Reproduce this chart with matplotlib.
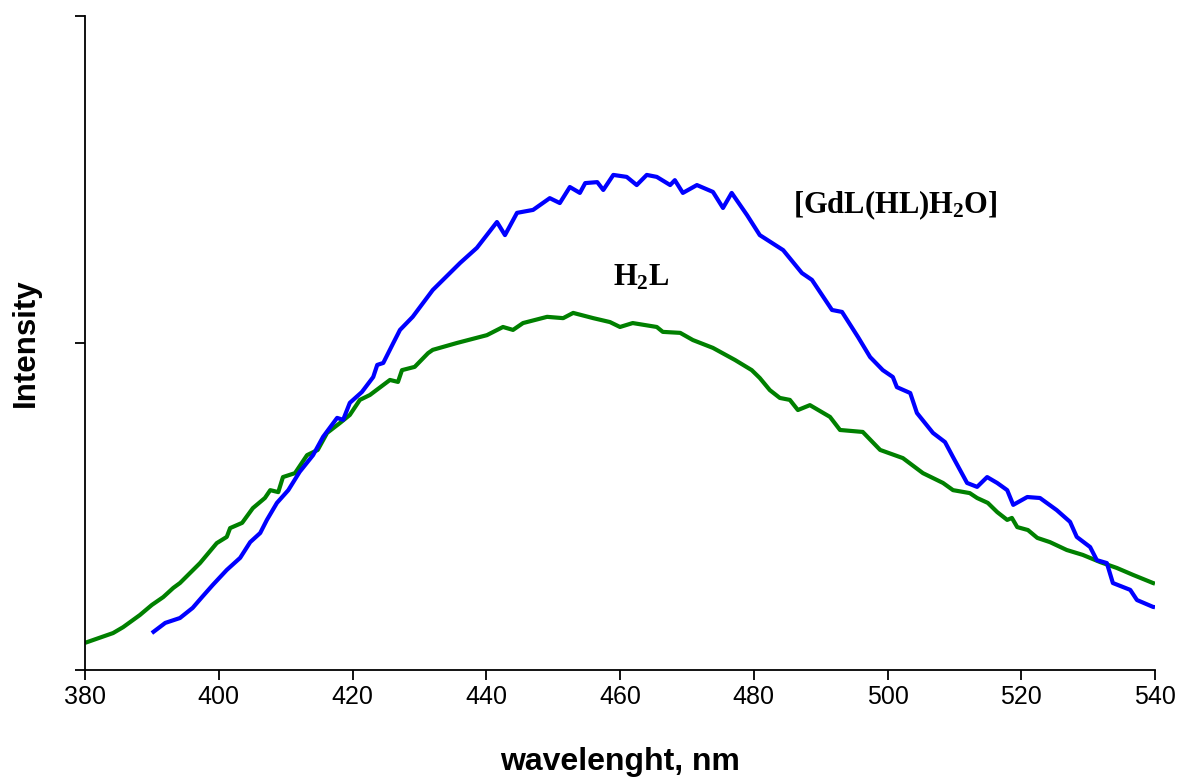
import matplotlib
matplotlib.use("Agg")
import matplotlib.pyplot as plt

plt.rcParams['font.family'] = ['Liberation Sans', 'DejaVu Sans']
plt.rcParams['mathtext.fontset'] = 'custom'
plt.rcParams['mathtext.rm'] = 'Liberation Serif'
plt.rcParams['mathtext.bf'] = 'Liberation Serif:bold'

# [GdL(HL)H2O] spectrum
gd_wl = [390.0, 392.0, 394.2, 396.1, 397.5, 399.1, 401.2, 403.2, 404.7, 406.2,
         407.2, 408.7, 410.4, 412.1, 414.1, 415.6, 417.7, 418.6, 419.6, 421.4,
         423.1, 423.7, 424.6, 426.1, 427.1, 429.0, 432.0, 436.1, 438.6, 441.6,
         442.8, 444.6, 447.0, 449.5, 451.0, 452.5, 454.0, 454.8, 456.6, 457.5,
         459.0, 461.0, 462.5, 464.0, 465.5, 467.5, 468.2, 469.4, 471.5, 473.9,
         475.4, 476.7, 479.0, 480.9, 484.4, 487.2, 488.7, 491.7, 493.2, 495.6,
         497.4, 499.3, 500.8, 501.4, 503.4, 504.4, 506.8, 508.6, 509.8, 511.9,
         513.4, 514.9, 516.4, 517.9, 518.8, 520.9, 522.8, 525.3, 527.3, 528.3,
         530.3, 531.3, 532.8, 533.7, 536.3, 537.3, 539.7, 540.0]
gd_int = [0.113, 0.144, 0.159, 0.190, 0.223, 0.260, 0.306, 0.343, 0.391, 0.419,
          0.459, 0.511, 0.550, 0.606, 0.657, 0.713, 0.771, 0.765, 0.817, 0.850,
          0.896, 0.933, 0.939, 1.000, 1.040, 1.080, 1.162, 1.245, 1.291, 1.370,
          1.330, 1.398, 1.407, 1.443, 1.428, 1.477, 1.459, 1.489, 1.492, 1.468,
          1.514, 1.508, 1.483, 1.514, 1.508, 1.483, 1.498, 1.459, 1.483, 1.462,
          1.413, 1.459, 1.391, 1.330, 1.284, 1.214, 1.193, 1.101, 1.095, 1.018,
          0.957, 0.917, 0.896, 0.865, 0.847, 0.786, 0.725, 0.697, 0.651, 0.572,
          0.560, 0.590, 0.572, 0.550, 0.505, 0.529, 0.526, 0.489, 0.453, 0.407,
          0.376, 0.336, 0.327, 0.266, 0.245, 0.214, 0.193, 0.192]

# H2L spectrum
h2l_wl = [380.0, 384.2, 385.7, 388.2, 390.0, 391.7, 393.2, 394.2, 397.2, 399.7,
          401.2, 401.7, 403.5, 405.1, 406.9, 407.7, 408.9, 409.6, 411.4, 413.2,
          414.8, 416.2, 418.1, 419.6, 421.1, 422.6, 425.6, 426.8, 427.4, 429.3,
          431.3, 432.0, 435.6, 440.1, 442.5, 444.0, 445.5, 449.1, 451.5, 453.0,
          456.0, 458.5, 460.0, 461.9, 465.5, 466.4, 469.0, 470.9, 473.9, 477.2,
          479.7, 480.9, 482.4, 483.9, 485.4, 486.6, 488.4, 491.4, 492.9, 496.3,
          498.9, 502.3, 505.3, 508.3, 509.8, 512.3, 513.4, 515.0, 516.4, 517.9,
          518.6, 519.4, 521.0, 522.4, 524.3, 526.8, 529.2, 531.8, 534.3, 536.7,
          539.7, 540.0]
h2l_int = [0.083, 0.113, 0.131, 0.168, 0.199, 0.223, 0.251, 0.266, 0.327, 0.388,
           0.407, 0.434, 0.450, 0.495, 0.526, 0.550, 0.544, 0.590, 0.602, 0.657,
           0.673, 0.725, 0.755, 0.780, 0.826, 0.841, 0.887, 0.881, 0.917, 0.927,
           0.969, 0.979, 1.000, 1.024, 1.049, 1.040, 1.061, 1.080, 1.076, 1.092,
           1.076, 1.064, 1.049, 1.061, 1.049, 1.034, 1.031, 1.009, 0.985, 0.948,
           0.917, 0.893, 0.856, 0.832, 0.826, 0.795, 0.810, 0.774, 0.734, 0.728,
           0.673, 0.648, 0.602, 0.572, 0.550, 0.541, 0.526, 0.511, 0.483, 0.459,
           0.465, 0.437, 0.428, 0.404, 0.391, 0.367, 0.352, 0.330, 0.312, 0.291,
           0.266, 0.264]

x_ticks = [380, 400, 420, 440, 460, 480, 500, 520, 540]
y_ticks = [0, 1, 2]

fig = plt.figure(figsize=(11.81, 7.80), dpi=100)
ax = fig.add_axes([85/1181, 1 - 670/780, (1155 - 85)/1181, (670 - 16)/780])

ax.plot(h2l_wl, h2l_int, color='#008000', lw=3.0, solid_capstyle='butt')
ax.plot(gd_wl, gd_int, color='#0000FF', lw=3.0, solid_capstyle='butt')

ax.set_xlim(380, 540)
ax.set_ylim(0, 2)
ax.set_xticks(x_ticks)
ax.set_xticklabels([str(t) for t in x_ticks], fontsize=18)
ax.set_yticks(y_ticks)
ax.set_yticklabels([])
ax.tick_params(axis='both', direction='out', length=7, width=1.3, color='black')
ax.tick_params(axis='x', pad=4)

for s in ['top', 'right']:
    ax.spines[s].set_visible(False)
for s in ['left', 'bottom']:
    ax.spines[s].set_linewidth(1.3)

ax.set_xlabel('wavelenght, nm', fontsize=23, fontweight='bold', labelpad=27)
ax.set_ylabel('Intensity', fontsize=22.5, fontweight='bold', labelpad=21)

ax.text(485.9, 1.42, r'$\mathbf{[GdL(HL)H_2O]}$', fontsize=22, ha='left', va='center')
ax.text(459.0, 1.20, r'$\mathbf{H_2L}$', fontsize=22, ha='left', va='center')

fig.savefig('out.png', dpi=100, facecolor='white')
